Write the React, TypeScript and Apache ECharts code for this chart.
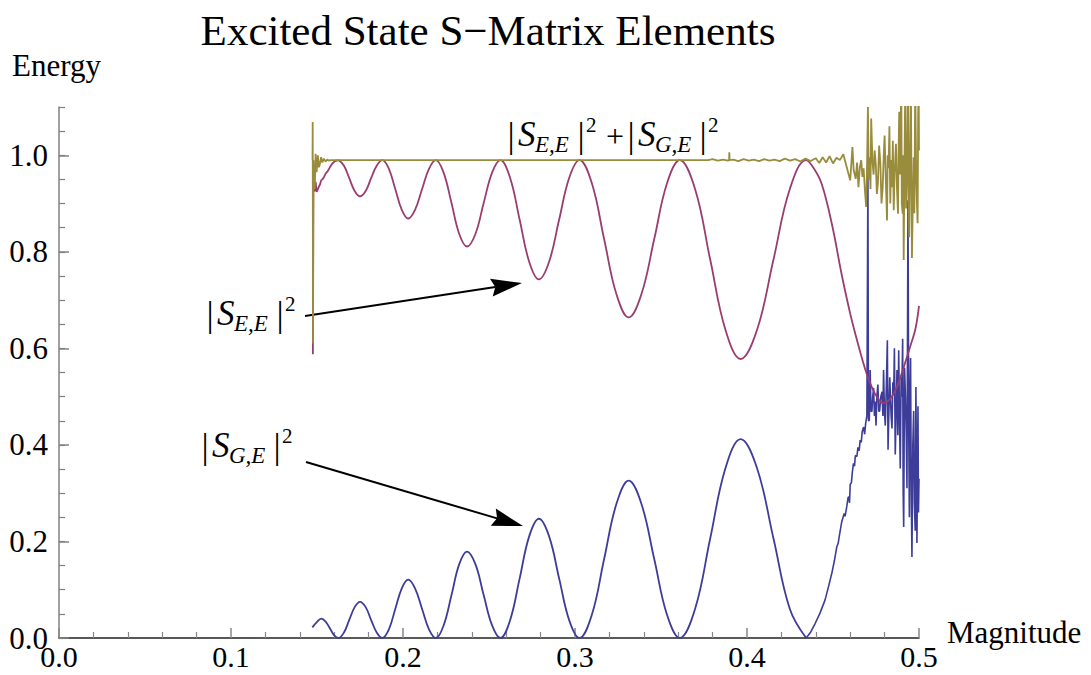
import React, { useEffect, useRef } from "react";
import * as echarts from "echarts";

// ---------- data ----------
const xMajorTicks = [0, 0.1, 0.2, 0.3, 0.4, 0.5];
const yMajorTicks = [0, 0.2, 0.4, 0.6, 0.8, 1.0];

// |S_{G,E}|^2 – clean oscillating part
const sGE: [number, number][] = [
  [0.1473, 0.022], [0.1499, 0.033], [0.1525, 0.040], [0.1550, 0.034], [0.1575, 0.020], [0.1599, 0.006], [0.1624, 0.000],
  [0.1656, 0.011], [0.1687, 0.037], [0.1719, 0.064], [0.1750, 0.075], [0.1783, 0.064], [0.1815, 0.037], [0.1848, 0.011], [0.1880, 0.000],
  [0.1918, 0.018], [0.1955, 0.060], [0.1993, 0.103], [0.2030, 0.121], [0.2070, 0.103], [0.2111, 0.060], [0.2151, 0.018], [0.2191, 0.000],
  [0.2236, 0.026], [0.2282, 0.089], [0.2327, 0.153], [0.2372, 0.179], [0.2421, 0.153], [0.2469, 0.089], [0.2518, 0.026], [0.2566, 0.000],
  [0.2622, 0.036], [0.2678, 0.123], [0.2734, 0.211], [0.2790, 0.247], [0.2849, 0.211], [0.2908, 0.123], [0.2967, 0.036], [0.3026, 0.000],
  [0.3098, 0.048], [0.3169, 0.163], [0.3241, 0.278], [0.3312, 0.326], [0.3386, 0.278], [0.3461, 0.163], [0.3535, 0.048], [0.3609, 0.000],
  [0.3698, 0.060], [0.3786, 0.206], [0.3875, 0.352], [0.3963, 0.412], [0.4058, 0.352], [0.4154, 0.206], [0.4249, 0.060], [0.4344, 0.000],
];

// |S_{G,E}|^2 – noisy tail
const sGETail: [number, number][] = [
  [0.4344, 0.000], [0.4370, 0.012], [0.4396, 0.030], [0.4425, 0.052], [0.4454, 0.079], [0.4475, 0.108], [0.4493, 0.134],
  [0.4508, 0.160], [0.4522, 0.189], [0.4530, 0.196], [0.4537, 0.212], [0.4551, 0.241], [0.4565, 0.258], [0.4570, 0.252],
  [0.4580, 0.272], [0.4587, 0.290], [0.4592, 0.293], [0.4596, 0.280], [0.4600, 0.318], [0.4607, 0.322], [0.4612, 0.342],
  [0.4619, 0.362], [0.4625, 0.356], [0.4630, 0.378], [0.4639, 0.376], [0.4645, 0.395], [0.4652, 0.388], [0.4658, 0.410],
  [0.4664, 0.405], [0.4670, 0.428], [0.4678, 0.437], [0.4684, 0.422], [0.4690, 0.445], [0.4697, 0.460], [0.4703, 0.965],
  [0.4706, 0.450], [0.4711, 0.451], [0.4716, 0.555], [0.4721, 0.470], [0.4726, 0.469], [0.4731, 0.500], [0.4736, 0.518],
  [0.4741, 0.460], [0.4745, 0.490], [0.4750, 0.440], [0.4755, 0.500], [0.4761, 0.525], [0.4766, 0.470], [0.4771, 0.470],
  [0.4778, 0.500], [0.4785, 0.510], [0.4790, 0.460], [0.4794, 0.555], [0.4799, 0.470], [0.4804, 0.440], [0.4810, 0.520],
  [0.4816, 0.617], [0.4820, 0.390], [0.4825, 0.470], [0.4830, 0.540], [0.4834, 0.540], [0.4838, 0.460], [0.4843, 0.434],
  [0.4848, 0.530], [0.4853, 0.503], [0.4857, 0.600], [0.4862, 0.380], [0.4867, 0.470], [0.4872, 0.555], [0.4877, 0.420],
  [0.4882, 0.596], [0.4886, 0.470], [0.4891, 0.351], [0.4896, 0.540], [0.4900, 0.500], [0.4905, 0.620], [0.4908, 0.300],
  [0.4911, 0.230], [0.4916, 0.560], [0.4921, 0.503], [0.4926, 0.420], [0.4930, 0.310], [0.4933, 0.600], [0.4936, 0.907],
  [0.4940, 0.450], [0.4944, 0.250], [0.4948, 0.520], [0.4951, 0.580], [0.4955, 0.300], [0.4959, 0.168], [0.4964, 0.400],
  [0.4969, 0.470], [0.4973, 0.280], [0.4978, 0.222], [0.4982, 0.520], [0.4986, 0.300], [0.4988, 0.197], [0.4992, 0.380],
  [0.4994, 0.480], [0.4997, 0.260], [0.5000, 0.330],
];

// |S_{E,E}|^2 – start transient
const sEEStart: [number, number][] = [
  [0.1476, 0.588], [0.1479, 0.935], [0.1486, 0.925], [0.1492, 0.945], [0.1498, 0.924], [0.1505, 0.930], [0.1511, 0.935],
  [0.1518, 0.940], [0.1524, 0.948], [0.1531, 0.950], [0.1541, 0.955], [0.1550, 0.962], [0.1560, 0.966], [0.1575, 0.975],
  [0.1589, 0.983], [0.1605, 0.988], [0.1624, 0.990],
];

// |S_{E,E}|^2 – smooth part
const sEE: [number, number][] = [
  [0.1624, 0.990], [0.1656, 0.979], [0.1687, 0.953], [0.1719, 0.926], [0.1750, 0.915], [0.1783, 0.926], [0.1815, 0.953], [0.1848, 0.979], [0.1880, 0.990],
  [0.1918, 0.972], [0.1955, 0.930], [0.1993, 0.887], [0.2030, 0.869], [0.2070, 0.887], [0.2111, 0.930], [0.2151, 0.972], [0.2191, 0.990],
  [0.2236, 0.964], [0.2282, 0.901], [0.2327, 0.837], [0.2372, 0.811], [0.2421, 0.837], [0.2469, 0.901], [0.2518, 0.964], [0.2566, 0.990],
  [0.2622, 0.954], [0.2678, 0.867], [0.2734, 0.779], [0.2790, 0.743], [0.2849, 0.779], [0.2908, 0.867], [0.2967, 0.954], [0.3026, 0.990],
  [0.3098, 0.942], [0.3169, 0.827], [0.3241, 0.712], [0.3312, 0.664], [0.3386, 0.712], [0.3461, 0.827], [0.3535, 0.942], [0.3609, 0.990],
  [0.3698, 0.930], [0.3786, 0.784], [0.3875, 0.638], [0.3963, 0.578], [0.4058, 0.638], [0.4154, 0.784], [0.4249, 0.930], [0.4344, 0.990],
  [0.4390, 0.972], [0.4435, 0.940], [0.4495, 0.855], [0.4551, 0.752], [0.4600, 0.672], [0.4629, 0.631], [0.4668, 0.580],
  [0.4700, 0.543], [0.4730, 0.516], [0.4760, 0.497], [0.4790, 0.487], [0.4825, 0.492], [0.4862, 0.513], [0.4890, 0.538],
  [0.4920, 0.571], [0.4950, 0.605], [0.4979, 0.640], [0.5000, 0.688],
];

// |S_{E,E}|^2 + |S_{G,E}|^2
const sSum: [number, number][] = [
  [0.1474, 0.990], [0.1475, 1.069], [0.1477, 0.610], [0.1479, 0.990], [0.1483, 0.950], [0.1487, 0.930], [0.1492, 1.003],
  [0.1498, 0.965], [0.1505, 1.000], [0.1511, 0.975], [0.1517, 0.982], [0.1524, 0.996], [0.1531, 0.985], [0.1540, 0.993],
  [0.1550, 0.987], [0.1560, 0.991], [0.1569, 0.989], [0.1580, 0.990], [0.3774, 0.990], [0.3800, 0.992], [0.3830, 0.989],
  [0.3860, 0.991], [0.3890, 0.989], [0.3896, 0.990], [0.3897, 1.006], [0.3899, 0.990], [0.3920, 0.991], [0.3950, 0.988],
  [0.3980, 0.992], [0.4010, 0.989], [0.4040, 0.991], [0.4070, 0.988], [0.4100, 0.992], [0.4130, 0.989], [0.4160, 0.991],
  [0.4190, 0.988], [0.4220, 0.993], [0.4250, 0.989], [0.4280, 0.992], [0.4310, 0.987], [0.4340, 0.993], [0.4370, 0.988],
  [0.4400, 0.994], [0.4420, 0.984], [0.4440, 0.996], [0.4460, 0.985], [0.4480, 0.998], [0.4500, 0.983], [0.4520, 0.995],
  [0.4540, 0.990], [0.4560, 1.002], [0.4580, 0.975], [0.4600, 0.948], [0.4613, 1.017], [0.4620, 0.970], [0.4632, 0.951],
  [0.4640, 0.985], [0.4648, 0.934], [0.4656, 0.975], [0.4664, 0.990], [0.4671, 0.955], [0.4678, 0.973], [0.4685, 0.930],
  [0.4693, 0.893], [0.4698, 0.980], [0.4703, 1.100], [0.4708, 0.950], [0.4713, 0.996], [0.4718, 0.930], [0.4722, 1.076],
  [0.4729, 0.990], [0.4736, 0.960], [0.4742, 1.010], [0.4749, 0.980], [0.4755, 0.920], [0.4761, 0.941], [0.4768, 1.020],
  [0.4775, 0.986], [0.4782, 0.900], [0.4789, 0.934], [0.4795, 1.000], [0.4800, 1.041], [0.4807, 0.950], [0.4814, 0.865],
  [0.4818, 1.000], [0.4823, 0.973], [0.4828, 1.060], [0.4833, 0.900], [0.4838, 0.990], [0.4843, 0.934], [0.4848, 1.030],
  [0.4853, 0.886], [0.4858, 0.960], [0.4866, 1.024], [0.4872, 0.930], [0.4878, 0.879], [0.4881, 1.000], [0.4885, 1.090],
  [0.4890, 0.960], [0.4897, 1.150], [0.4900, 0.900], [0.4905, 0.879], [0.4908, 1.000], [0.4911, 0.783], [0.4915, 0.960],
  [0.4920, 1.150], [0.4925, 0.890], [0.4930, 0.955], [0.4936, 1.150], [0.4940, 0.900], [0.4943, 0.830], [0.4948, 1.000],
  [0.4953, 1.150], [0.4956, 0.950], [0.4959, 0.787], [0.4964, 0.900], [0.4969, 0.996], [0.4973, 0.880], [0.4978, 1.150],
  [0.4984, 0.950], [0.4988, 0.900], [0.4992, 0.859], [0.4995, 1.080], [0.4998, 1.150], [0.5000, 1.010],
];

// ---------- styling ----------
const BLUE = "#3d3d99";
const RED = "#993d71";
const GOLD = "#998c3d";
const SERIF = "'Liberation Serif', serif";

function txt(text: string, x: number, baseline: number, size: number, italic = false, align = "left") {
  const y = baseline - 0.3375 * size;
  return {
    type: "text",
    silent: true,
    style: {
      text,
      x,
      y,
      fontSize: size,
      fontFamily: SERIF,
      fontStyle: italic ? "italic" : "normal",
      fontWeight: "normal",
      fill: "#000",
      textAlign: align,
      textVerticalAlign: "middle",
      align,
      verticalAlign: "middle",
    },
  };
}

function bar(x: number, center: number) {
  return txt("|", x, center + 0.3375 * 36 - 2, 36, false, "center");
}

function absSq(x: number, baseline: number, sub: string, subWidth: number) {
  // |S_sub|^2
  return [
    bar(x, baseline - 9),
    txt("S", x + 7, baseline, 35, true),
    txt(sub, x + 24, baseline + 6, 23, true),
    bar(x + 70 + subWidth, baseline - 9),
    txt("2", x + 75 + subWidth, baseline - 14, 21),
  ];
}

function arrow(x1: number, y1: number, x2: number, y2: number) {
  const dx = x2 - x1;
  const dy = y2 - y1;
  const len = Math.hypot(dx, dy);
  const ux = dx / len;
  const uy = dy / len;
  const nx = -uy;
  const ny = ux;
  const L = 31;
  const W = 9;
  const notch = 4;
  const bx = x2 - ux * L;
  const by = y2 - uy * L;
  return [
    {
      type: "line",
      silent: true,
      shape: { x1, y1, x2: bx + ux * notch, y2: by + uy * notch },
      style: { stroke: "#000", lineWidth: 2 },
    },
    {
      type: "polygon",
      silent: true,
      shape: {
        points: [
          [x2, y2],
          [bx + nx * W, by + ny * W],
          [bx + ux * notch, by + uy * notch],
          [bx - nx * W, by - ny * W],
        ],
      },
      style: { fill: "#000" },
    },
  ];
}

export default function App() {
  const ref = useRef<HTMLDivElement>(null);

  useEffect(() => {
    if (!ref.current) return;
    const chart = echarts.init(ref.current, undefined, { renderer: "svg" });

    const lineBase = {
      type: "line",
      showSymbol: false,
      symbol: "none",
      clip: true,
      silent: true,
      xAxisIndex: 0,
      yAxisIndex: 0,
    };

    const graphics: any[] = [
      txt("Excited State S\u2212Matrix Elements", 488, 45, 43, false, "center"),
      txt("Energy", 12, 76, 31),
      txt("Magnitude", 947, 643, 31),
      // top annotation
      ...absSq(511, 146, "E,E", 0),
      txt("+", 615, 147, 32, false, "center"),
      ...absSq(631, 146, "G,E", 2),
      // left annotations
      ...absSq(210, 325, "E,E", 0),
      ...absSq(205, 457, "G,E", 2),
      ...arrow(305, 316, 522, 283),
      ...arrow(306, 462, 523, 526),
    ];

    chart.setOption({
      animation: false,
      backgroundColor: "#fff",
      grid: { left: 59, right: 172, top: 107, bottom: 37, containLabel: false },
      xAxis: {
        type: "value",
        min: 0,
        max: 0.5,
        interval: 0.1,
        axisLine: { show: true, onZero: true, lineStyle: { color: "#222", width: 1.5 } },
        axisTick: { show: true, inside: true, length: 10, lineStyle: { color: "#888", width: 1.5 } },
        minorTick: { show: true, splitNumber: 5, length: 6, lineStyle: { color: "#888", width: 1.2 } },
        axisLabel: {
          show: true,
          margin: 3,
          color: "#000",
          fontSize: 30,
          fontFamily: SERIF,
          formatter: (v: number) => (xMajorTicks.some((t) => Math.abs(t - v) < 1e-9) ? v.toFixed(1) : ""),
        },
        splitLine: { show: false },
        minorSplitLine: { show: false },
      },
      yAxis: [
        {
          type: "value",
          position: "left",
          min: 0,
          max: 1.1,
          interval: 0.2,
          axisLine: { show: true, onZero: false, lineStyle: { color: "#808080", width: 1.5 } },
          axisTick: { show: true, inside: true, length: 10, customValues: yMajorTicks, lineStyle: { color: "#808080", width: 1.5 } },
          axisLabel: {
            show: true,
            margin: 11,
            color: "#000",
            fontSize: 31,
            fontFamily: SERIF,
            customValues: yMajorTicks,
            formatter: (v: number) => v.toFixed(1),
          },
          splitLine: { show: false },
        },
        {
          type: "value",
          position: "left",
          min: 0,
          max: 1.1,
          interval: 0.05,
          axisLine: { show: false },
          axisTick: { show: true, inside: true, length: 6, lineStyle: { color: "#808080", width: 1.2 } },
          axisLabel: { show: false },
          splitLine: { show: false },
        },
      ],
      series: [
        { ...lineBase, name: "SGE", data: sGE, smooth: 0.4, lineStyle: { color: BLUE, width: 1.8 } },
        { ...lineBase, name: "SGEtail", data: sGETail, smooth: false, lineStyle: { color: BLUE, width: 1.6 } },
        { ...lineBase, name: "SEEstart", data: sEEStart, smooth: false, lineStyle: { color: RED, width: 1.8 } },
        { ...lineBase, name: "SEE", data: sEE, smooth: 0.4, lineStyle: { color: RED, width: 1.8 } },
        { ...lineBase, name: "Sum", data: sSum, smooth: false, lineStyle: { color: GOLD, width: 1.8 } },
      ],
      graphic: { elements: graphics },
    });

    return () => {
      chart.dispose();
    };
  }, []);

  return (
    <div
      ref={ref}
      style={{ position: "fixed", left: 0, top: 0, width: 1091, height: 675, background: "#fff" }}
    />
  );
}
